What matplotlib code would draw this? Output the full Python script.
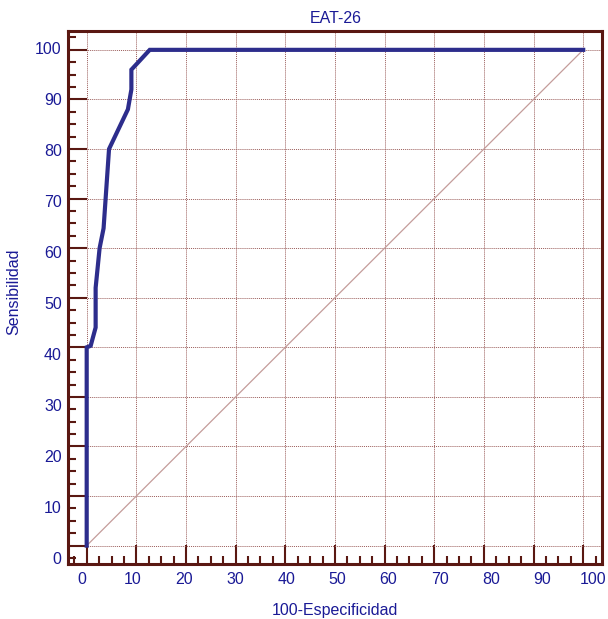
import numpy as np
import matplotlib.pyplot as plt
from matplotlib.ticker import MultipleLocator

# Datos de la curva ROC
fpr = [0, 0, 0.8, 1.8, 1.8, 2.6, 3.4, 4.5, 8.3, 9.0, 9.0, 12.7, 100]
sens = [0, 40, 40.3, 44, 52, 60, 64, 80, 88, 92, 96, 100, 100]
ref_line = [0, 100]
tick_vals = list(range(0, 101, 10))

blue_txt = "#1a1a96"
frame_col = "#5a1812"
grid_col = "#9a5c5a"

plt.rcParams['font.family'] = ['Liberation Sans', 'DejaVu Sans']

fig = plt.figure(figsize=(6.08, 6.19), dpi=100)
ax = fig.add_axes([0.1118, 0.0889, 0.8782, 0.861])

ax.plot(ref_line, ref_line, color="#c49c9a", lw=0.9, zorder=2)
ax.plot(fpr, sens, color="#2d2d8c", lw=3.0, zorder=3, solid_joinstyle='miter')

ax.set_xlim(-3.77, 103.77)
ax.set_ylim(-3.7, 103.8)

ax.xaxis.set_major_locator(MultipleLocator(10))
ax.xaxis.set_minor_locator(MultipleLocator(2.5))
ax.yaxis.set_major_locator(MultipleLocator(10))
ax.yaxis.set_minor_locator(MultipleLocator(2.5))
ax.tick_params(which='major', direction='in', length=13.5, width=1.5, color=frame_col,
               labelbottom=False, labelleft=False)
ax.tick_params(which='minor', direction='in', length=5.8, width=1.5, color=frame_col)
ax.grid(True, which='major', color=grid_col, lw=0.7, ls=(0, (1, 1)), zorder=1)

for s in ax.spines.values():
    s.set_color(frame_col)
    s.set_linewidth(2.2)

# etiquetas de los ejes (desplazadas como en el original)
secx = ax.secondary_xaxis('bottom', functions=(lambda x: (x + 0.946) / 1.029,
                                               lambda v: 1.029 * v - 0.946))
secx.set_xticks(tick_vals)
secx.tick_params(length=0, pad=6, labelsize=11.5, labelcolor=blue_txt)
secx.spines['bottom'].set_visible(False)

secy = ax.secondary_yaxis('left', functions=(lambda y: (y + 2.48) / 1.028,
                                             lambda v: 1.028 * v - 2.48))
secy.set_yticks(tick_vals)
secy.tick_params(length=0, pad=4.5, labelsize=11.5, labelcolor=blue_txt)
secy.spines['left'].set_visible(False)

fig.text(0.553, 0.970, "EAT-26", ha='center', va='center', fontsize=11.5, color=blue_txt)
fig.text(0.551, 0.014, "100-Especificidad", ha='center', va='center', fontsize=11.5, color=blue_txt)
fig.text(0.023, 0.528, "Sensibilidad", ha='center', va='center', rotation=90,
         fontsize=11.5, color=blue_txt)

fig.savefig("out.png", dpi=100)
